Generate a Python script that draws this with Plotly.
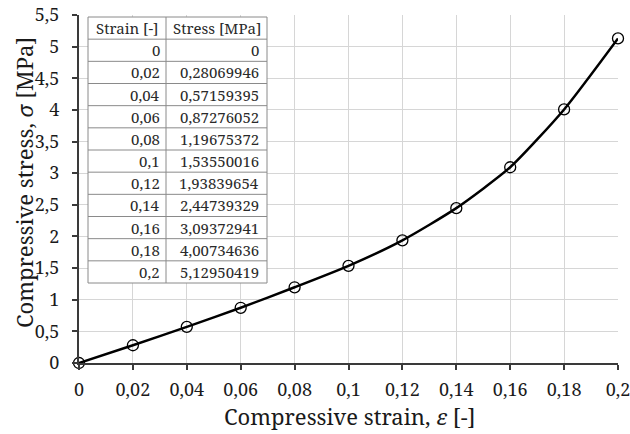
import plotly.graph_objects as go

strain = [0, 0.02, 0.04, 0.06, 0.08, 0.1, 0.12, 0.14, 0.16, 0.18, 0.2]
stress = [0, 0.28069946, 0.57159395, 0.87276052, 1.19675372, 1.53550016,
          1.93839654, 2.44739329, 3.09372941, 4.00734636, 5.12950419]
table_header = ["Strain [-]", "Stress [MPa]"]
x_title = "Compressive strain, <i>ε</i> [-]"
y_title = "Compressive stress, <i>σ</i> [MPa]"


def fmt(v):
    s = ("%.8f" % v).rstrip("0").rstrip(".")
    return s.replace(".", ",")


FONT = "Noto Serif"

W, H = 630, 434
L, R, T, B = 79, 12, 15, 71
pw, ph = W - L - R, H - T - B


def px_x(p):
    return (p - L) / pw


def px_y(p):
    return (H - B - p) / ph


fig = go.Figure()
fig.add_trace(go.Scatter(
    x=strain, y=stress, mode="lines+markers",
    line=dict(color="black", width=2.5, shape="spline", smoothing=0.6),
    marker=dict(symbol="circle-open", size=11, color="black", line=dict(width=1.3)),
    showlegend=False, cliponaxis=False,
))

tx0, tx1, txm = 88, 267, 166
ty0, ty1 = 17, 283
rows = [table_header] + [[fmt(a), fmt(b)] for a, b in zip(strain, stress)]
n = len(rows)
rh = (ty1 - ty0) / n
shapes = [dict(type="rect", xref="paper", yref="paper",
               x0=px_x(tx0), x1=px_x(tx1), y0=px_y(ty1), y1=px_y(ty0),
               fillcolor="white", line=dict(color="#8a8a8a", width=1), layer="above")]
for i in range(1, n):
    yy = px_y(ty0 + i * rh)
    shapes.append(dict(type="line", xref="paper", yref="paper",
                       x0=px_x(tx0), x1=px_x(tx1), y0=yy, y1=yy,
                       line=dict(color="#8a8a8a", width=1), layer="above"))
shapes.append(dict(type="line", xref="paper", yref="paper",
                   x0=px_x(txm), x1=px_x(txm), y0=px_y(ty1), y1=px_y(ty0),
                   line=dict(color="#8a8a8a", width=1), layer="above"))

annotations = []
for i, (a, b) in enumerate(rows):
    yc = px_y(ty0 + (i + 0.5) * rh)
    if i == 0:
        annotations.append(dict(x=px_x((tx0 + txm) / 2), y=yc, text=a, xanchor="center"))
        annotations.append(dict(x=px_x((txm + tx1) / 2), y=yc, text=b, xanchor="center"))
    else:
        annotations.append(dict(x=px_x(txm - 4), y=yc, text=a, xanchor="right"))
        annotations.append(dict(x=px_x(tx1 - 6), y=yc, text=b, xanchor="right"))
for an in annotations:
    an.update(xref="paper", yref="paper", yanchor="middle", showarrow=False,
              font=dict(family=FONT, size=15, color="#2a2a2a"))

# axis titles
annotations.append(dict(xref="paper", yref="paper", x=px_x(349), y=px_y(416),
                        xanchor="center", yanchor="middle", showarrow=False,
                        text=x_title, font=dict(family=FONT, size=22, color="#1a1a1a")))
annotations.append(dict(xref="paper", yref="paper", x=px_x(24), y=px_y(183),
                        xanchor="center", yanchor="middle", showarrow=False, textangle=-90,
                        text=y_title, font=dict(family=FONT, size=22, color="#1a1a1a")))

fig.update_layout(
    width=W, height=H, margin=dict(l=L, r=R, t=T, b=B, autoexpand=False),
    paper_bgcolor="white", plot_bgcolor="white",
    separators=", ",
    font=dict(family=FONT, color="black"),
    shapes=shapes, annotations=annotations,
    xaxis=dict(range=[0, 0.2], tickmode="array", tickvals=strain, showgrid=True,
               gridcolor="#d6d6d6", gridwidth=1, zeroline=False,
               showline=True, linecolor="#3a3a3a", linewidth=2,
               ticks="outside", ticklen=5, tickcolor="#3a3a3a", tickwidth=1.5,
               ticklabeloverflow="allow", ticklabelstandoff=4,
               tickfont=dict(size=18, family=FONT, color="#1a1a1a"), automargin=False),
    yaxis=dict(range=[0, 5.5], dtick=0.5, tick0=0, showgrid=True,
               gridcolor="#d6d6d6", gridwidth=1, zeroline=False,
               showline=True, linecolor="#3a3a3a", linewidth=2,
               ticks="outside", ticklen=5, tickcolor="#3a3a3a", tickwidth=1.5,
               ticklabelstandoff=9,
               tickfont=dict(size=18, family=FONT, color="#1a1a1a"), automargin=False),
)

fig.write_html("out.html", config={"displayModeBar": False},
               post_script="document.body.style.margin='0';")
